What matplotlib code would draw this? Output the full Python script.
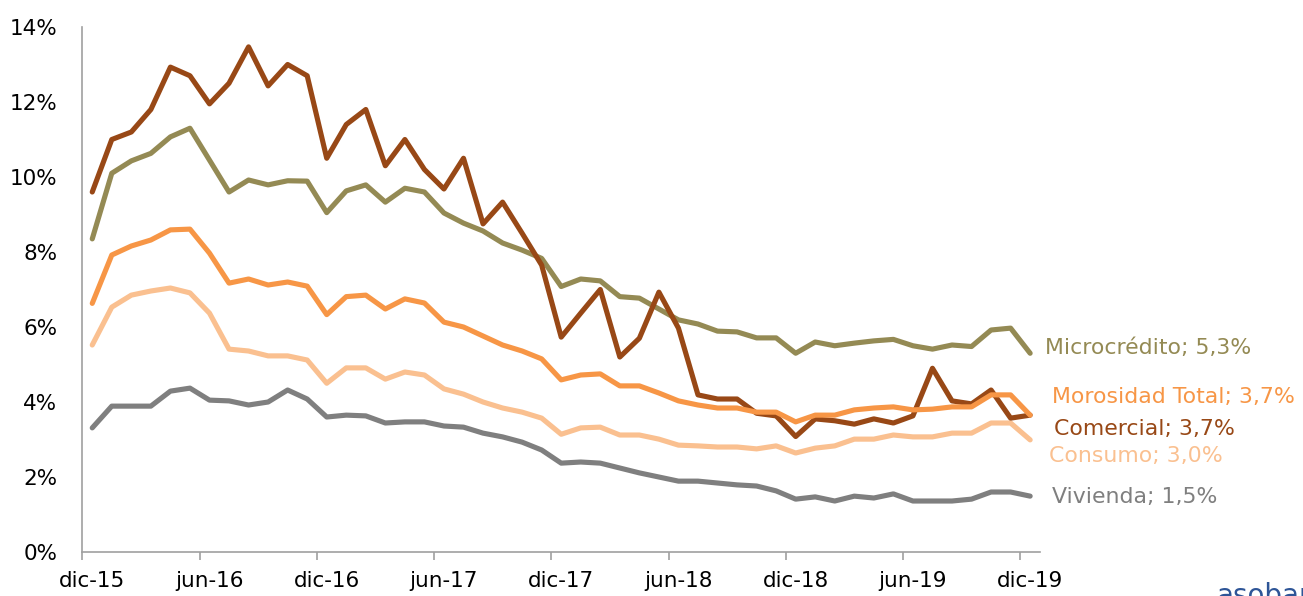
import matplotlib
matplotlib.use("Agg")
import matplotlib.pyplot as plt
import numpy as np

# months dic-15 .. dic-19 (49 monthly points)
tick_labels = ["dic-15", "jun-16", "dic-16", "jun-17", "dic-17",
               "jun-18", "dic-18", "jun-19", "dic-19"]

comercial = [9.60, 11.00, 11.20, 11.80, 12.93, 12.70, 11.95, 12.50, 13.47, 12.43,
             13.00, 12.70, 10.50, 11.40, 11.80, 10.30, 11.00, 10.20, 9.68, 10.50,
             8.75, 9.33, 8.50, 7.65, 5.73, 6.37, 7.00, 5.20, 5.70, 6.93,
             5.97, 4.19, 4.08, 4.08, 3.70, 3.63, 3.08, 3.55, 3.50, 3.41,
             3.55, 3.44, 3.63, 4.90, 4.03, 3.95, 4.32, 3.57, 3.65]

microcredito = [8.35, 10.10, 10.43, 10.63, 11.07, 11.30, 10.45, 9.60, 9.92, 9.79,
                9.90, 9.89, 9.05, 9.63, 9.79, 9.33, 9.70, 9.60, 9.04, 8.77,
                8.56, 8.24, 8.05, 7.83, 7.08, 7.28, 7.23, 6.81, 6.77, 6.48,
                6.19, 6.08, 5.89, 5.87, 5.71, 5.71, 5.30, 5.60, 5.50, 5.57,
                5.63, 5.67, 5.50, 5.41, 5.52, 5.48, 5.92, 5.97, 5.30]

total = [6.63, 7.92, 8.16, 8.32, 8.59, 8.61, 7.97, 7.17, 7.28, 7.12,
         7.20, 7.09, 6.33, 6.81, 6.85, 6.48, 6.75, 6.64, 6.13, 6.00,
         5.76, 5.52, 5.36, 5.15, 4.59, 4.72, 4.75, 4.43, 4.43, 4.24,
         4.03, 3.92, 3.84, 3.84, 3.73, 3.73, 3.47, 3.65, 3.65, 3.79,
         3.84, 3.87, 3.79, 3.81, 3.87, 3.87, 4.19, 4.19, 3.65]

consumo = [5.52, 6.53, 6.85, 6.96, 7.04, 6.91, 6.37, 5.41, 5.36, 5.23,
           5.23, 5.12, 4.50, 4.91, 4.91, 4.61, 4.80, 4.72, 4.35, 4.21,
           4.00, 3.84, 3.73, 3.57, 3.14, 3.31, 3.33, 3.12, 3.12, 3.01,
           2.85, 2.83, 2.80, 2.80, 2.75, 2.83, 2.64, 2.77, 2.83, 3.01,
           3.01, 3.12, 3.07, 3.07, 3.17, 3.17, 3.44, 3.44, 2.99]

vivienda = [3.31, 3.89, 3.89, 3.89, 4.29, 4.37, 4.05, 4.03, 3.92, 4.00,
            4.32, 4.08, 3.60, 3.65, 3.63, 3.44, 3.47, 3.47, 3.36, 3.33,
            3.17, 3.07, 2.93, 2.72, 2.37, 2.40, 2.37, 2.24, 2.11, 2.00,
            1.89, 1.89, 1.84, 1.79, 1.76, 1.63, 1.41, 1.47, 1.36, 1.49,
            1.44, 1.55, 1.36, 1.36, 1.36, 1.41, 1.60, 1.60, 1.49]

series = [
    ("Vivienda; 1,5%", vivienda, "#7f7f7f", (22, -1)),
    ("Consumo; 3,0%", consumo, "#fac090", (19, -16)),
    ("Microcrédito; 5,3%", microcredito, "#948a54", (15, 5)),
    ("Comercial; 3,7%", comercial, "#984816", (24, -14)),
    ("Morosidad Total; 3,7%", total, "#f79646", (22, 18)),
]

plt.rcParams["font.family"] = ["DejaVu Sans"]

fig = plt.figure(figsize=(13.03, 5.96), dpi=100)
ax = fig.add_axes([0.0633, 0.0738, 0.7348, 0.8809])

x = np.arange(len(vivienda))
for name, vals, col, off in series:
    ax.plot(x, vals, color=col, lw=3.7, solid_joinstyle="round",
            solid_capstyle="round")
    ax.annotate(name, xy=(x[-1], vals[-1]), xytext=(off[0], off[1]),
                textcoords="offset pixels", color=col, fontsize=15.8,
                ha="left", va="center", annotation_clip=False)

ax.set_xlim(-0.5, len(x) - 0.5)
ax.set_ylim(0, 14)
ax.set_yticks(np.arange(0, 15, 2))
ax.set_yticklabels([f"{v}%" for v in range(0, 15, 2)])
ax.tick_params(axis="y", length=0, pad=18, labelsize=15.5)

ax.set_xticks(np.arange(0, len(x), 6))
ax.set_xticklabels(tick_labels)
ax.tick_params(axis="x", length=0, pad=14, labelsize=15.5)
ax.set_xticks(np.arange(-0.5, len(x) - 1, 6), minor=True)
ax.tick_params(axis="x", which="minor", length=6, width=1.2, color="#a0a0a0")

for s in ["top", "right"]:
    ax.spines[s].set_visible(False)
for s in ["left", "bottom"]:
    ax.spines[s].set_color("#a0a0a0")
    ax.spines[s].set_linewidth(1.2)

# logo text, partly cut by the figure edge as in the source image
fig.text(1216 / 1303, 0.024, "asobancaria", color="#2e5597",
         fontsize=20, ha="left", va="top")

fig.savefig("out.png", dpi=100)
